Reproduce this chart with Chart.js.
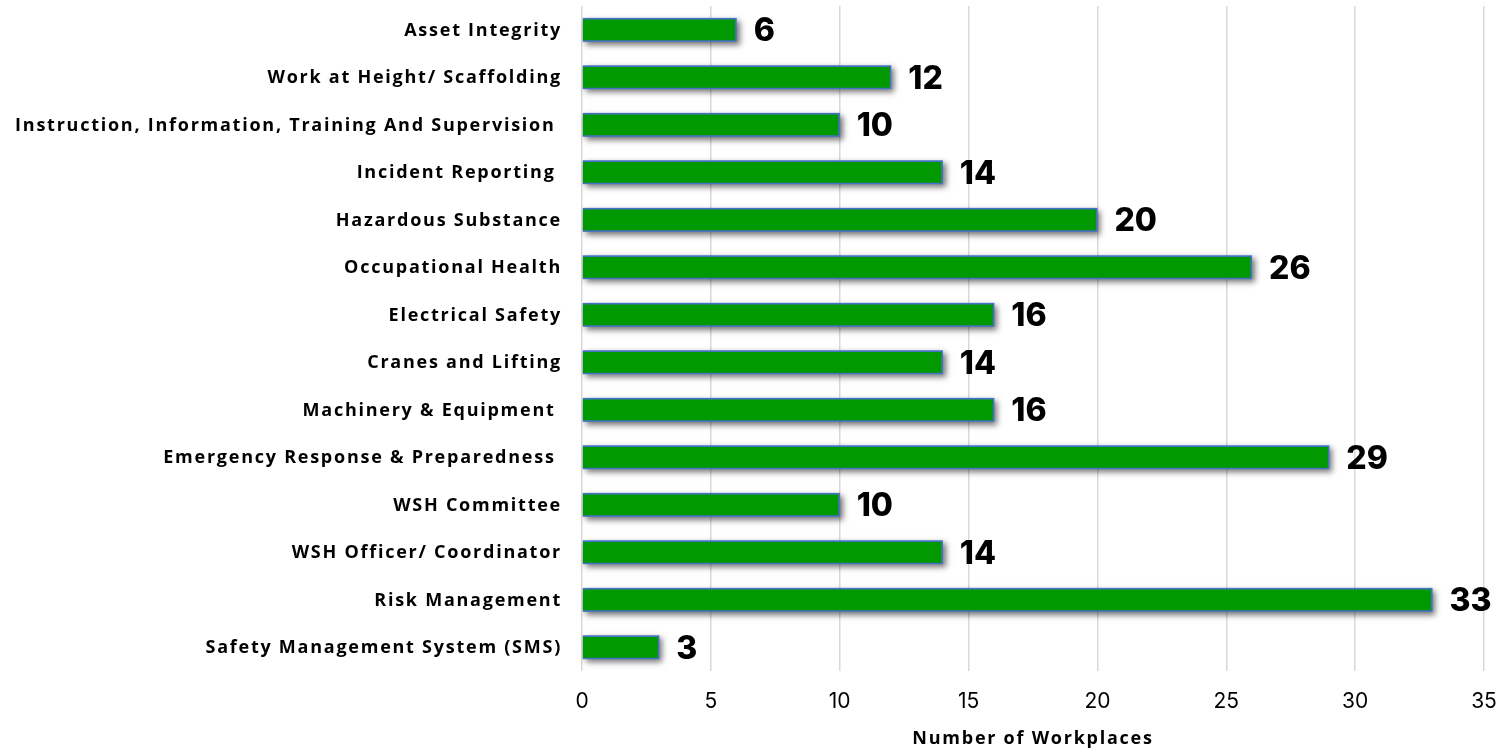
<!DOCTYPE html>
<html>
<head>
  <title>Number of Workplaces</title>
  <script src="https://cdn.jsdelivr.net/npm/chart.js"></script>
  <style>
    html, body { margin: 0; padding: 0; background: #fff; }
    #wrap { width: 1503px; height: 751px; }
  </style>
</head>
<body>
  <div id="wrap"><canvas id="data-chart"></canvas></div>
  <script>
    // Categories, top to bottom
    const categories = [
      'Asset Integrity',
      'Work at Height/ Scaffolding',
      'Instruction, Information, Training And Supervision ',
      'Incident Reporting ',
      'Hazardous Substance',
      'Occupational Health',
      'Electrical Safety',
      'Cranes and Lifting',
      'Machinery & Equipment ',
      'Emergency Response & Preparedness ',
      'WSH Committee',
      'WSH Officer/ Coordinator',
      'Risk Management',
      'Safety Management System (SMS)'
    ];
    const workplaces = [6, 12, 10, 14, 20, 26, 16, 14, 16, 29, 10, 14, 33, 3];
    const xTicks = [0, 5, 10, 15, 20, 25, 30, 35];
    const xTitle = 'Number of Workplaces';

    const labelFont = 'bold 18px "Open Sans", Arial, sans-serif';
    const labelSpacing = '1.75px';

    // shadow behind each bar (the bar element clips its own shadow, so draw it first)
    const shadowPlugin = {
      id: 'barShadow',
      beforeDatasetsDraw(chart) {
        const ctx = chart.ctx;
        const meta = chart.getDatasetMeta(0);
        ctx.save();
        ctx.shadowColor = 'rgba(0,0,0,0.55)';
        ctx.shadowBlur = 6;
        ctx.shadowOffsetX = 3;
        ctx.shadowOffsetY = 3;
        ctx.fillStyle = '#4472C4';
        meta.data.forEach(bar => {
          const p = bar.getProps(['x', 'y', 'base', 'height']);
          ctx.fillRect(p.base, p.y - p.height / 2, p.x - p.base, p.height);
        });
        ctx.restore();
      }
    };

    // category labels + axis title (drawn by hand for the letter spacing)
    const axisText = {
      id: 'axisText',
      afterDraw(chart) {
        const ctx = chart.ctx;
        const y = chart.scales.y;
        const area = chart.chartArea;
        ctx.save();
        ctx.font = labelFont;
        ctx.letterSpacing = labelSpacing;
        ctx.fillStyle = '#000';
        ctx.textBaseline = 'middle';
        ctx.textAlign = 'right';
        categories.forEach((c, i) => {
          ctx.fillText(c, area.left - 20, y.getPixelForTick(i) + 1);
        });
        ctx.textAlign = 'center';
        ctx.fillText(xTitle, (area.left + area.right) / 2, 739);
        ctx.restore();
      }
    };

    // value labels at bar ends
    const valueLabels = {
      id: 'valueLabels',
      afterDatasetsDraw(chart) {
        const ctx = chart.ctx;
        const meta = chart.getDatasetMeta(0);
        ctx.save();
        ctx.font = '800 32px Inter';
        ctx.fillStyle = '#000';
        ctx.textAlign = 'left';
        ctx.textBaseline = 'middle';
        meta.data.forEach((bar, i) => {
          ctx.fillText(String(workplaces[i]), bar.x + 17, bar.y + 2);
        });
        ctx.restore();
      }
    };

    const ctx = document.getElementById('data-chart').getContext('2d');
    new Chart(ctx, {
      type: 'bar',
      data: {
        labels: categories,
        datasets: [{
          data: workplaces,
          backgroundColor: '#009900',
          borderColor: '#4472C4',
          borderWidth: 1.5,
          barPercentage: 0.5,
          categoryPercentage: 1
        }]
      },
      plugins: [shadowPlugin, valueLabels, axisText],
      options: {
        indexAxis: 'y',
        responsive: true,
        maintainAspectRatio: false,
        animation: false,
        layout: { padding: { top: 6, right: 19, bottom: 0, left: 0 } },
        plugins: {
          legend: { display: false },
          tooltip: { enabled: false }
        },
        scales: {
          x: {
            min: 0,
            max: 35,
            afterBuildTicks: s => { s.ticks = xTicks.map(v => ({ value: v })); },
            afterFit: s => { s.height = 80; s.paddingLeft = 0; s.paddingRight = 0; },
            grid: { color: '#d9d9d9', lineWidth: 1.5, drawTicks: false },
            border: { display: false },
            ticks: {
              padding: 18,
              color: '#000',
              font: { family: 'Inter', size: 21 }
            },
            title: { display: false }
          },
          y: {
            afterFit: s => { s.width = 582; s.paddingTop = 0; s.paddingBottom = 0; },
            grid: { display: false, drawTicks: false },
            border: { display: false },
            ticks: { display: false }
          }
        }
      }
    });
  </script>
</body>
</html>
